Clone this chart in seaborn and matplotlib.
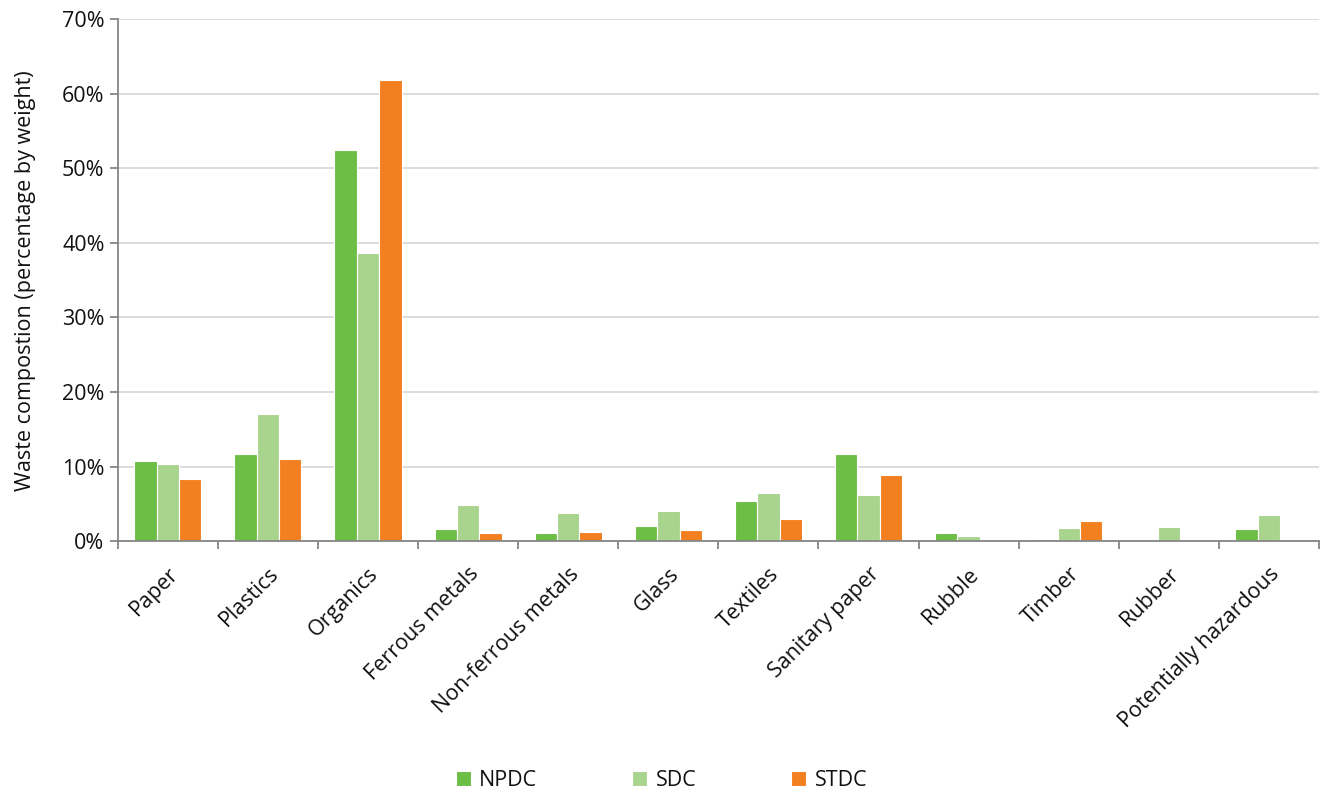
import matplotlib
matplotlib.use("Agg")
import matplotlib.pyplot as plt
import numpy as np
import pandas as pd
import seaborn as sns
from matplotlib.ticker import PercentFormatter, FixedLocator

categories = ["Paper", "Plastics", "Organics", "Ferrous metals", "Non-ferrous metals",
              "Glass", "Textiles", "Sanitary paper", "Rubble", "Timber", "Rubber",
              "Potentially hazardous"]
npdc = [10.7, 11.7, 52.4, 1.7, 1.05, 2.05, 5.4, 11.75, 1.15, 0.3, 0.0, 1.6]
sdc = [10.4, 17.1, 38.6, 4.85, 3.8, 4.1, 6.5, 6.2, 0.75, 1.8, 1.85, 3.55]
stdc = [8.35, 11.0, 61.8, 1.1, 1.3, 1.45, 3.0, 8.9, 0.0, 2.75, 0.0, 0.0]
series = ["NPDC", "SDC", "STDC"]
colors = ["#6DBE45", "#A9D48E", "#F38020"]

df = pd.DataFrame({
    "category": categories * 3,
    "value": npdc + sdc + stdc,
    "series": [s for s in series for _ in categories],
})

sns.set_theme(style="white")
plt.rcParams["font.family"] = ["Open Sans", "DejaVu Sans"]
plt.rcParams["text.color"] = "#111111"

fig, ax = plt.subplots(figsize=(13.23, 7.96), dpi=100)
fig.subplots_adjust(left=0.089, right=0.997, top=0.976, bottom=0.32)

sns.barplot(data=df, x="category", y="value", hue="series", palette=colors,
            saturation=1, width=0.67, edgecolor="white", linewidth=0.8, ax=ax)

ax.set_ylim(0, 70)
ax.set_xlim(-0.5, len(categories) - 0.5)
ax.yaxis.set_major_locator(FixedLocator(np.arange(0, 71, 10)))
ax.yaxis.set_major_formatter(PercentFormatter(decimals=0))
ax.grid(axis="y", color="#D9D9D9", linewidth=1.3)
ax.set_axisbelow(True)

for s in ["top", "right"]:
    ax.spines[s].set_visible(False)
for s in ["left", "bottom"]:
    ax.spines[s].set_color("#868686")
    ax.spines[s].set_linewidth(1.3)

ax.set_xticks(range(len(categories)))
ax.set_xticklabels(categories, rotation=45, ha="right", rotation_mode="anchor", fontsize=15.5)
ax.set_xticks(np.arange(-0.5, len(categories), 1), minor=True)
ax.tick_params(axis="x", which="major", length=0, pad=16, labelcolor="#111111")
ax.tick_params(axis="x", which="minor", bottom=True, length=6, width=1.3,
               color="#868686", direction="out")
ax.tick_params(axis="y", which="major", length=6, width=1.3, color="#868686",
               direction="out", labelsize=15.5, left=True, labelcolor="#111111")

ax.set_xlabel("")
ax.set_ylabel("Waste compostion (percentage by weight)", fontsize=15.5, color="#111111")
ax.yaxis.set_label_coords(-0.068, 0.5)

handles, labels = ax.get_legend_handles_labels()
ax.legend_.remove()
fig.legend(handles, labels, loc="lower center", bbox_to_anchor=(0.5, -0.018), ncol=3,
           frameon=False, fontsize=15.5, columnspacing=4.4, handlelength=0.7,
           handleheight=0.7, handletextpad=0.4)

fig.savefig("out.png", dpi=100)
